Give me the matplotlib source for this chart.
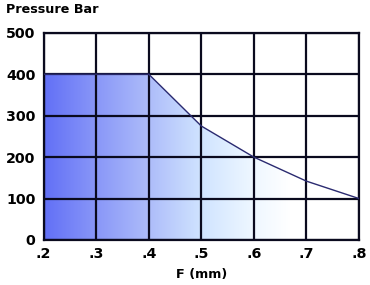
import numpy as np
import matplotlib.pyplot as plt
from matplotlib.colors import LinearSegmentedColormap
from matplotlib.patches import Polygon

plt.rcParams['font.family'] = ['DejaVu Sans']

# dados da curva
f_mm = [0.2, 0.3, 0.4, 0.5, 0.6, 0.7, 0.8]
pressao = [400, 400, 400, 275, 200, 142, 100]
xticks = [0.2, 0.3, 0.4, 0.5, 0.6, 0.7, 0.8]
xlabels = ['.2', '.3', '.4', '.5', '.6', '.7', '.8']
yticks = [0, 100, 200, 300, 400, 500]

fig = plt.figure(figsize=(3.7, 2.85), dpi=100)
ax = fig.add_axes([0.118, 0.158, 0.852, 0.727])

# gradiente azul -> branco
cmap = LinearSegmentedColormap.from_list('grad', [
    (0.0, '#6270f6'), (0.17, '#8a98f8'), (0.33, '#adbcfa'),
    (0.5, '#d0e4ff'), (0.66, '#eef7ff'), (0.78, '#ffffff'), (1.0, '#ffffff')])
grad = np.linspace(0, 1, 256).reshape(1, -1)
img = ax.imshow(grad, extent=[0.2, 0.8, 0, 500], aspect='auto',
                cmap=cmap, origin='lower', zorder=1)
verts = list(zip(f_mm, pressao)) + [(0.8, 0), (0.2, 0)]
poly = Polygon(verts, closed=True, facecolor='none', edgecolor='none')
ax.add_patch(poly)
img.set_clip_path(poly)

ax.plot(f_mm, pressao, color='#2a2a70', lw=1.0, zorder=3)

ax.set_xlim(0.2, 0.8)
ax.set_ylim(0, 500)
ax.set_xticks(xticks)
ax.set_xticklabels(xlabels)
ax.set_yticks(yticks)
ax.grid(color='#0a0a1e', lw=1.6, zorder=2)
ax.set_axisbelow(False)
for s in ax.spines.values():
    s.set_linewidth(1.6)
    s.set_color('#0a0a1e')
ax.tick_params(length=0, labelsize=10.3)
ax.tick_params(axis='x', pad=5)
ax.tick_params(axis='y', pad=6)
for t in ax.get_xticklabels() + ax.get_yticklabels():
    t.set_fontweight('bold')

ax.set_xlabel('F (mm)', fontsize=9.2, fontweight='bold', labelpad=5)
fig.text(0.016, 0.968, 'Pressure Bar', fontsize=9.2, fontweight='bold', va='center')

fig.savefig('out.png', dpi=100)
